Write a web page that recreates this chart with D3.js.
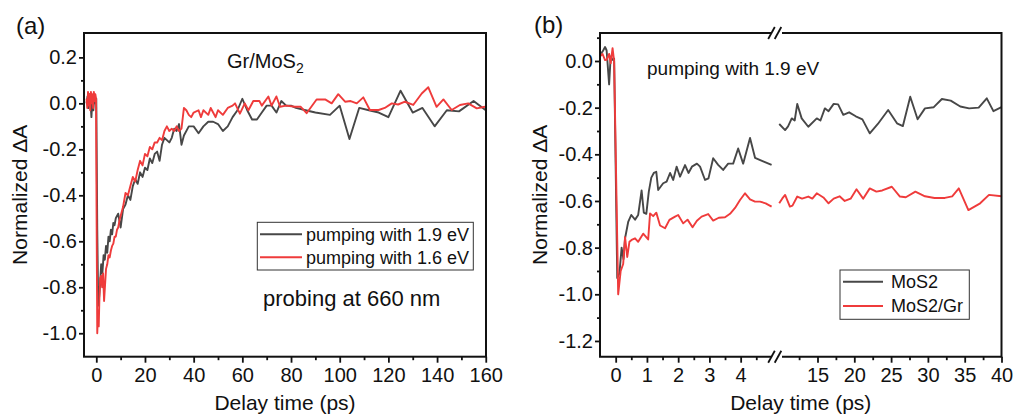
<!DOCTYPE html>
<html>
<head>
<meta charset="utf-8">
<script src="https://cdn.jsdelivr.net/npm/d3@7"></script>
<style>
    body { margin: 0; background: #fff; }
    text { font-family: "Liberation Sans", Arial, sans-serif; fill: #111; }
</style>
</head>
<body>
<svg id="chart" width="1014" height="417"></svg>
<script>

// ---- panel (a): Gr/MoS2, probing at 660 nm ----
const aTime19 = [-4.0, -3.6, -3.2, -2.8, -2.4, -2.0, -1.6, -1.2, -0.8, -0.4, 0.0, 0.4, 0.8, 1.2, 1.6, 2.0, 2.5, 3.0, 3.5, 4.0, 4.5, 5.0, 5.5, 6.0, 6.5, 7.0, 7.5, 8.0, 9.0, 10, 11, 12, 13, 14, 15, 16, 17, 18, 19, 20, 21, 22, 23, 24, 25, 26, 27, 28, 29, 30, 31, 32, 33, 34, 35, 36, 38, 40, 42, 44, 46, 48, 50, 52, 54, 56, 58, 60, 62, 64, 66, 68, 70, 72, 74, 76, 78, 80, 82, 86, 90, 96, 100, 104, 108, 112, 116, 120, 125, 130, 134, 139, 144, 149, 155, 160];
const aDA19 = [0.00, 0.03, -0.02, 0.04, 0.01, -0.06, 0.02, -0.03, 0.04, 0.00, 0.02, -0.55, -0.88, -0.84, -0.78, -0.70, -0.74, -0.66, -0.68, -0.62, -0.65, -0.58, -0.60, -0.55, -0.57, -0.52, -0.53, -0.50, -0.48, -0.54, -0.46, -0.44, -0.40, -0.42, -0.36, -0.33, -0.35, -0.30, -0.32, -0.28, -0.29, -0.24, -0.26, -0.22, -0.21, -0.25, -0.18, -0.15, -0.16, -0.17, -0.15, -0.11, -0.12, -0.09, -0.18, -0.14, -0.10, -0.10, -0.13, -0.10, -0.08, -0.08, -0.09, -0.12, -0.10, -0.06, -0.03, 0.02, -0.03, -0.07, -0.07, -0.04, -0.01, -0.01, -0.04, 0.01, -0.01, -0.01, -0.02, -0.03, -0.04, -0.05, -0.01, -0.155, -0.02, -0.03, -0.04, -0.06, 0.055, -0.04, -0.02, -0.10, -0.03, -0.035, 0.01, -0.03];

const aTime16 = [-4.0, -3.7, -3.4, -3.1, -2.8, -2.5, -2.2, -1.9, -1.6, -1.3, -1.0, -0.7, -0.4, -0.1, 0.1, 0.4, 0.7, 1.0, 1.3, 1.6, 2.0, 2.4, 2.8, 3.2, 3.6, 4.0, 4.5, 5.0, 5.5, 6.0, 6.5, 7.0, 7.5, 8.0, 8.5, 9.0, 9.5, 10, 11, 12, 13, 14, 15, 16, 17, 18, 19, 20, 21, 22, 23, 24, 25, 26, 27, 28, 29, 30, 31, 32, 33, 34, 35, 36, 37, 38, 39, 40, 42, 43, 44, 46, 47, 48, 49, 50, 52, 54, 56, 57, 59, 61, 62.5, 64.5, 67, 68, 70.7, 72, 74, 75.5, 78, 81.6, 84, 86.4, 90.5, 94, 96.7, 99.4, 102.2, 104.5, 107, 109.7, 112.4, 116, 118.5, 121.4, 124, 126.8, 130.2, 133.7, 136.4, 139.8, 142.6, 146, 149.4, 152.8, 156.3, 159.7];
const aDA16 = [0.02, -0.02, 0.05, -0.01, 0.04, -0.03, 0.05, 0.00, 0.04, -0.02, 0.05, 0.01, 0.04, 0.02, -0.45, -1.00, -0.90, -0.97, -0.84, -0.76, -0.75, -0.80, -0.74, -0.86, -0.79, -0.72, -0.70, -0.66, -0.67, -0.64, -0.62, -0.61, -0.58, -0.58, -0.55, -0.54, -0.51, -0.49, -0.45, -0.39, -0.40, -0.36, -0.32, -0.34, -0.29, -0.25, -0.27, -0.22, -0.23, -0.19, -0.20, -0.17, -0.17, -0.15, -0.16, -0.12, -0.10, -0.12, -0.11, -0.12, -0.10, -0.12, -0.11, -0.02, -0.03, -0.05, -0.06, -0.04, -0.03, -0.06, -0.03, -0.05, -0.02, -0.04, -0.06, -0.03, -0.05, -0.02, -0.01, 0.00, -0.045, 0.00, -0.03, 0.01, 0.01, -0.01, 0.03, -0.01, 0.03, -0.015, -0.01, -0.015, -0.015, -0.043, 0.017, 0.017, 0.00, 0.04, 0.007, 0.01, 0.00, 0.026, -0.029, -0.029, -0.02, 0.00, -0.005, 0.007, -0.007, 0.043, 0.07, -0.015, 0.017, -0.029, -0.007, 0.00, -0.022, -0.015];

// ---- panel (b): pumping with 1.9 eV, broken time axis ----
const bTimeMoS2 = [-0.5, -0.42, -0.34, -0.29, -0.21, -0.16, -0.1, -0.05, 0.05, 0.12, 0.19, 0.25, 0.3, 0.4, 0.5, 0.62, 0.72, 0.83, 0.9, 0.98, 1.06, 1.14, 1.22, 1.3, 1.36, 1.52, 1.63, 1.74, 1.84, 1.95, 2.06, 2.22, 2.33, 2.44, 2.6, 2.7, 2.86, 2.97, 3.12, 3.28, 3.44, 3.6, 3.76, 3.92, 4.08, 4.3, 4.46, 4.72, 4.99,
    9.8, 10.6, 11.0, 11.5, 11.9, 12.25, 12.85, 13.75, 14.9, 15.4, 16.0, 16.5, 17.2, 17.8, 18.5, 19.3, 20.2, 21.1, 22.1, 23.2, 24.6, 25.8, 26.6, 27.6, 28.6, 29.6, 30.8, 31.9, 33.1, 34.4, 35.6, 36.9, 38.0, 38.9, 40];
const bMoS2 = [0.03, 0.04, 0.06, 0.045, -0.10, 0.02, 0.005, 0.01, -0.93, -0.91, -0.80, -0.85, -0.76, -0.69, -0.66, -0.68, -0.66, -0.555, -0.65, -0.655, -0.56, -0.50, -0.48, -0.475, -0.553, -0.524, -0.517, -0.48, -0.51, -0.453, -0.496, -0.446, -0.48, -0.453, -0.44, -0.453, -0.51, -0.503, -0.417, -0.445, -0.467, -0.44, -0.44, -0.375, -0.44, -0.33, -0.415, -0.43, -0.445,
    -0.27, -0.296, -0.28, -0.246, -0.255, -0.184, -0.246, -0.282, -0.246, -0.255, -0.203, -0.215, -0.184, -0.186, -0.231, -0.22, -0.237, -0.25, -0.31, -0.27, -0.21, -0.267, -0.279, -0.153, -0.25, -0.203, -0.198, -0.163, -0.17, -0.195, -0.203, -0.20, -0.16, -0.215, -0.198];

const bTimeHet = [-0.5, -0.42, -0.34, -0.29, -0.21, -0.16, -0.1, -0.05, 0.08, 0.16, 0.24, 0.3, 0.37, 0.44, 0.51, 0.62, 0.72, 0.88, 1.04, 1.1, 1.2, 1.3, 1.42, 1.58, 1.72, 1.9, 2.0, 2.16, 2.3, 2.46, 2.6, 2.75, 2.96, 3.12, 3.3, 3.5, 3.66, 3.82, 3.98, 4.14, 4.3, 4.46, 4.62, 4.8, 4.99,
    9.8, 10.2, 10.6, 11.25, 11.6, 12.25, 12.9, 13.75, 14.3, 14.9, 15.8, 16.5, 17.2, 18.0, 18.7, 19.5, 20.3, 21.2, 22.1, 23.0, 23.8, 25.1, 26.2, 27.0, 28.3, 29.6, 30.9, 32.3, 33.3, 34.2, 35.5, 37.1, 38.3, 40];
const bHet = [0.02, 0.03, 0.004, 0.005, 0.03, -0.01, 0.055, 0.0, -1.00, -0.90, -0.87, -0.755, -0.84, -0.775, -0.767, -0.76, -0.775, -0.74, -0.765, -0.653, -0.665, -0.65, -0.705, -0.717, -0.681, -0.667, -0.66, -0.696, -0.68, -0.713, -0.685, -0.667, -0.656, -0.684, -0.672, -0.67, -0.655, -0.63, -0.596, -0.567, -0.593, -0.603, -0.603, -0.61, -0.624,
    -0.61, -0.59, -0.574, -0.624, -0.62, -0.581, -0.59, -0.581, -0.59, -0.567, -0.585, -0.61, -0.59, -0.58, -0.60, -0.59, -0.55, -0.59, -0.546, -0.56, -0.555, -0.539, -0.581, -0.584, -0.56, -0.58, -0.587, -0.587, -0.58, -0.546, -0.639, -0.61, -0.574, -0.58];

const aXTicks = [0, 20, 40, 60, 80, 100, 120, 140, 160];
const aYTicks = [0.2, 0.0, -0.2, -0.4, -0.6, -0.8, -1.0];
const bX1Ticks = [0, 1, 2, 3, 4];
const bX2Ticks = [15, 20, 25, 30, 35, 40];
const bYTicks = [0.0, -0.2, -0.4, -0.6, -0.8, -1.0, -1.2];

colors = {
    dark: "#474747",
    red: "#ef3b3b",
    axis: "#111",
}

const fmt = v => (Math.round(v * 10) / 10).toFixed(1).replace("-0.0", "0.0");
const svg = d3.select("#chart");

const styleAxis = (g, fontSize) => {
    g.select(".domain").remove();
    g.selectAll("line").attr("stroke", colors.axis).attr("stroke-width", 1.8);
    g.selectAll("text")
        .attr("font-size", fontSize)
        .style("font-family", "'Liberation Sans', Arial, sans-serif")
        .attr("fill", "#111");
}

const drawLine = (x, y, ts, vs, color) => {
    const line = d3.line().x(d => x(d[0])).y(d => y(d[1]));
    svg.append("path")
        .datum(ts.map((t, i) => [t, vs[i]]))
        .attr("d", line)
        .attr("fill", "none")
        .attr("stroke", color)
        .attr("stroke-width", 1.9)
        .attr("stroke-linejoin", "round");
}

const drawLegend = (x0, y0, w, h, rows, fontSize) => {
    const lg = svg.append("g");
    lg.append("rect")
        .attr("x", x0).attr("y", y0).attr("width", w).attr("height", h)
        .attr("fill", "#fff").attr("stroke", "#333").attr("stroke-width", 1);
    rows.forEach((r, i) => {
        lg.append("line")
            .attr("x1", r.lx1).attr("x2", r.lx2)
            .attr("y1", r.y).attr("y2", r.y)
            .attr("stroke", r.color).attr("stroke-width", 2);
        lg.append("text")
            .attr("x", r.tx).attr("y", r.y + fontSize * 0.35)
            .attr("font-size", fontSize)
            .text(r.label);
    });
}

// ================= panel (a) =================
const aBox = { left: 84, top: 33, right: 486, bottom: 356.7 };
const xa = d3.scaleLinear().domain([-5.05, 160.1]).range([aBox.left, aBox.right]);
const ya = d3.scaleLinear().domain([-1.102, 0.306]).range([aBox.bottom, aBox.top]);

svg.append("g")
    .attr("transform", `translate(0,${aBox.bottom})`)
    .call(d3.axisBottom(xa).tickValues(aXTicks).tickSize(6).tickPadding(5).tickFormat(d3.format("d")))
    .call(g => styleAxis(g, 20));
svg.append("g")
    .attr("transform", `translate(0,${aBox.bottom})`)
    .call(d3.axisBottom(xa).tickValues(d3.range(10, 160, 20)).tickSize(3.5).tickFormat(""))
    .call(g => styleAxis(g, 20));
svg.append("g")
    .attr("transform", `translate(${aBox.left},0)`)
    .call(d3.axisLeft(ya).tickValues(aYTicks).tickSize(5).tickPadding(2).tickFormat(fmt))
    .call(g => styleAxis(g, 20));
svg.append("g")
    .attr("transform", `translate(${aBox.left},0)`)
    .call(d3.axisLeft(ya).tickValues([0.1, -0.1, -0.3, -0.5, -0.7, -0.9]).tickSize(3).tickFormat(""))
    .call(g => styleAxis(g, 20));

drawLine(xa, ya, aTime19, aDA19, colors.dark);
drawLine(xa, ya, aTime16, aDA16, colors.red);

svg.append("rect")
    .attr("x", aBox.left).attr("y", aBox.top)
    .attr("width", aBox.right - aBox.left).attr("height", aBox.bottom - aBox.top)
    .attr("fill", "none").attr("stroke", colors.axis).attr("stroke-width", 2);

svg.append("text").attr("x", 16).attr("y", 34).attr("font-size", 24).text("(a)");
const grLabel = svg.append("text").attr("x", 227).attr("y", 68).attr("font-size", 20);
grLabel.append("tspan").text("Gr/MoS");
grLabel.append("tspan").attr("font-size", 14).attr("dy", 5).text("2");
svg.append("text").attr("x", 263).attr("y", 306).attr("font-size", 22).text("probing at 660 nm");

drawLegend(257.3, 222.3, 216, 47.7, [
    { lx1: 260, lx2: 302, tx: 306, y: 234.3, color: colors.dark, label: "pumping with 1.9 eV" },
    { lx1: 260, lx2: 302, tx: 306, y: 257.3, color: colors.red, label: "pumping with 1.6 eV" },
], 18);

svg.append("text")
    .attr("x", (aBox.left + aBox.right) / 2).attr("y", 410)
    .attr("text-anchor", "middle").attr("font-size", 21)
    .text("Delay time (ps)");
svg.append("text")
    .attr("transform", `translate(27,${(aBox.top + aBox.bottom) / 2}) rotate(-90)`)
    .attr("text-anchor", "middle").attr("font-size", 21)
    .text("Normalized ΔA");

// ================= panel (b) =================
const bBox = { left: 600, top: 33, right: 1001.5, bottom: 356.7 };
const breakL = 771, breakR = 782;
const x1 = d3.scaleLinear().domain([-0.502, 5.0]).range([bBox.left, 771.9]);
const x2 = d3.scaleLinear().domain([15, 40]).range([817.5, bBox.right]);
const yb = d3.scaleLinear().domain([-1.2675, 0.12]).range([bBox.bottom, bBox.top]);

svg.append("g")
    .attr("transform", `translate(0,${bBox.bottom})`)
    .call(d3.axisBottom(x1).tickValues(bX1Ticks).tickSize(6).tickPadding(5).tickFormat(d3.format("d")))
    .call(g => styleAxis(g, 20));
svg.append("g")
    .attr("transform", `translate(0,${bBox.bottom})`)
    .call(d3.axisBottom(x1).tickValues([0.5, 1.5, 2.5, 3.5, 4.5]).tickSize(3.5).tickFormat(""))
    .call(g => styleAxis(g, 20));
svg.append("g")
    .attr("transform", `translate(0,${bBox.bottom})`)
    .call(d3.axisBottom(x2).tickValues(bX2Ticks).tickSize(6).tickPadding(5).tickFormat(d3.format("d")))
    .call(g => styleAxis(g, 20));
svg.append("g")
    .attr("transform", `translate(0,${bBox.bottom})`)
    .call(d3.axisBottom(x2).tickValues([12.5, 17.5, 22.5, 27.5, 32.5, 37.5]).tickSize(3.5).tickFormat(""))
    .call(g => styleAxis(g, 20));
svg.append("g")
    .attr("transform", `translate(${bBox.left},0)`)
    .call(d3.axisLeft(yb).tickValues(bYTicks).tickSize(5).tickPadding(2).tickFormat(fmt))
    .call(g => styleAxis(g, 20));
svg.append("g")
    .attr("transform", `translate(${bBox.left},0)`)
    .call(d3.axisLeft(yb).tickValues([0.1, -0.1, -0.3, -0.5, -0.7, -0.9, -1.1]).tickSize(3).tickFormat(""))
    .call(g => styleAxis(g, 20));

[[bTimeMoS2, bMoS2, colors.dark], [bTimeHet, bHet, colors.red]].forEach(([ts, vs, c]) => {
    const early = ts.map((t, i) => [t, vs[i]]).filter(d => d[0] < 7);
    const late = ts.map((t, i) => [t, vs[i]]).filter(d => d[0] > 7);
    drawLine(x1, yb, early.map(d => d[0]), early.map(d => d[1]), c);
    drawLine(x2, yb, late.map(d => d[0]), late.map(d => d[1]), c);
});

// frame with the axis break
const frame = svg.append("g")
    .attr("fill", "none").attr("stroke", colors.axis).attr("stroke-width", 2);
frame.append("path").attr("d", `M${breakL},${bBox.top}H${bBox.left}V${bBox.bottom}H${breakL}`);
frame.append("path").attr("d", `M${breakR},${bBox.top}H${bBox.right}V${bBox.bottom}H${breakR}`);
[bBox.top, bBox.bottom].forEach(y => {
    [771.5, 778].forEach(cx => {
        frame.append("line")
            .attr("x1", cx - 3.3).attr("y1", y + 6)
            .attr("x2", cx + 3.3).attr("y2", y - 6)
            .attr("stroke-width", 1.8);
    });
});

svg.append("text").attr("x", 534).attr("y", 33).attr("font-size", 24).text("(b)");
svg.append("text").attr("x", 647).attr("y", 75).attr("font-size", 19).text("pumping with 1.9 eV");

drawLegend(840, 270, 129.3, 49.3, [
    { lx1: 843, lx2: 883, tx: 891, y: 281.7, color: colors.dark, label: "MoS2" },
    { lx1: 843, lx2: 883, tx: 891, y: 306, color: colors.red, label: "MoS2/Gr" },
], 18);

svg.append("text")
    .attr("x", (bBox.left + bBox.right) / 2).attr("y", 410)
    .attr("text-anchor", "middle").attr("font-size", 21)
    .text("Delay time (ps)");
svg.append("text")
    .attr("transform", `translate(547,${(bBox.top + bBox.bottom) / 2}) rotate(-90)`)
    .attr("text-anchor", "middle").attr("font-size", 21)
    .text("Normalized ΔA");

</script>
</body>
</html>
